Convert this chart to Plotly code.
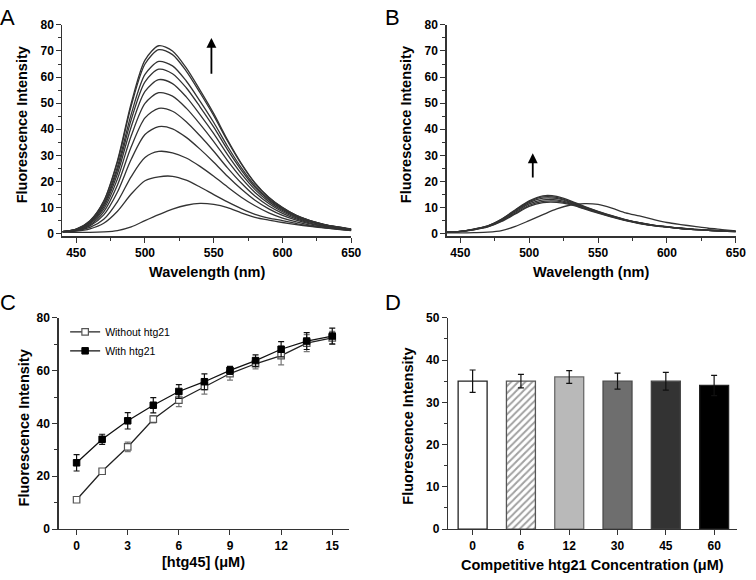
import plotly.graph_objects as go

W, H = 756, 580
FONT = "Liberation Sans, Arial, Helvetica, sans-serif"

# ---------------- data ----------------
wavelength = [440, 450, 460, 470, 480, 490, 500, 510, 520, 530, 540,
              550, 560, 570, 580, 590, 600, 610, 620, 630, 640, 650]

# Panel A: spectra with increasing htg45
spec_a1 = [0.6, 0.5, 0.5, 0.7, 1.2, 2.6, 5.0, 7.3, 9.4, 10.9, 11.6, 11.2, 10.0, 8.0, 6.3, 5.2, 4.3, 3.5, 2.8, 2.2, 1.8, 1.4]
spec_a2 = [0.7, 1.0, 1.9, 4.0, 8.6, 15.2, 20.3, 21.8, 22.0, 20.5, 17.9, 15.0, 12.2, 9.6, 7.4, 6.0, 5.0, 3.9, 3.0, 2.3, 1.7, 1.2]
spec_a3 = [0.8, 1.2, 2.4, 5.5, 12.3, 21.9, 29.2, 31.5, 31.0, 29.0, 25.8, 22.0, 17.9, 14.0, 10.7, 8.0, 6.0, 4.5, 3.3, 2.5, 1.8, 1.3]
spec_a4 = [0.8, 1.3, 3.0, 7.2, 16.0, 28.5, 38.0, 41.0, 40.2, 36.9, 32.4, 27.4, 22.0, 17.1, 12.8, 9.5, 7.0, 5.2, 3.8, 2.8, 2.0, 1.4]
spec_a5 = [0.8, 1.4, 3.4, 8.4, 18.7, 33.3, 44.4, 48.0, 46.9, 42.9, 37.5, 31.6, 25.2, 19.4, 14.4, 10.6, 7.8, 5.7, 4.1, 3.0, 2.2, 1.5]
spec_a6 = [0.8, 1.5, 3.8, 9.4, 21.0, 37.5, 49.9, 54.0, 52.7, 48.1, 42.0, 35.3, 28.0, 21.4, 15.8, 11.6, 8.4, 6.1, 4.4, 3.2, 2.3, 1.6]
spec_a7 = [0.8, 1.6, 4.1, 10.3, 23.0, 41.0, 54.5, 59.0, 57.5, 52.4, 45.6, 38.3, 30.3, 23.0, 16.9, 12.3, 8.9, 6.4, 4.6, 3.3, 2.4, 1.7]
spec_a8 = [0.8, 1.6, 4.4, 11.0, 24.5, 43.7, 58.2, 63.0, 61.3, 55.9, 48.6, 40.8, 32.2, 24.4, 17.8, 12.9, 9.3, 6.6, 4.8, 3.4, 2.4, 1.7]
spec_a9 = [0.8, 1.7, 4.6, 11.5, 25.7, 45.8, 61.0, 66.0, 64.3, 58.5, 50.8, 42.6, 33.5, 25.3, 18.4, 13.3, 9.6, 6.8, 4.9, 3.5, 2.5, 1.7]
spec_a10 = [0.8, 1.8, 4.9, 12.3, 27.4, 49.0, 65.0, 70.5, 68.6, 62.3, 54.0, 45.2, 35.5, 26.7, 19.3, 13.9, 10.0, 7.0, 5.0, 3.6, 2.6, 1.8]
spec_a11 = [0.8, 1.8, 5.0, 12.5, 28.0, 50.0, 66.5, 72.0, 70.0, 63.5, 55.0, 46.0, 36.0, 27.0, 19.5, 14.0, 10.0, 7.0, 5.0, 3.6, 2.6, 1.8]
spectra_A = [spec_a1, spec_a2, spec_a3, spec_a4, spec_a5, spec_a6,
             spec_a7, spec_a8, spec_a9, spec_a10, spec_a11]

# Panel B: spectra in presence of htg21
spec_b0 = [0.3, 0.3, 0.4, 0.6, 1.2, 2.8, 5.0, 7.3, 9.5, 11.0, 11.5, 11.2, 9.8, 8.0, 6.8, 5.5, 4.3, 3.5, 2.8, 2.1, 1.6, 1.1]
spec_b1 = [0.6, 0.9, 1.8, 3.0, 5.6, 9.2, 12.6, 14.5, 14.3, 12.6, 10.5, 8.6, 6.9, 5.4, 4.2, 3.3, 2.7, 2.1, 1.7, 1.4, 1.1, 0.9]
spec_b2 = [0.6, 0.9, 1.8, 3.0, 5.5, 9.0, 12.3, 14.1, 13.9, 12.3, 10.3, 8.5, 6.8, 5.3, 4.2, 3.3, 2.6, 2.1, 1.7, 1.4, 1.1, 0.9]
spec_b3 = [0.6, 0.9, 1.7, 2.9, 5.3, 8.7, 11.9, 13.6, 13.5, 12.0, 10.1, 8.3, 6.7, 5.2, 4.1, 3.2, 2.6, 2.1, 1.7, 1.3, 1.1, 0.9]
spec_b4 = [0.6, 0.9, 1.7, 2.8, 5.1, 8.3, 11.4, 13.0, 13.0, 11.7, 9.9, 8.2, 6.6, 5.2, 4.1, 3.2, 2.6, 2.0, 1.6, 1.3, 1.0, 0.8]
spec_b5 = [0.6, 0.9, 1.6, 2.7, 4.9, 7.9, 10.9, 12.4, 12.5, 11.4, 9.7, 8.1, 6.5, 5.1, 4.0, 3.1, 2.5, 2.0, 1.6, 1.3, 1.0, 0.8]
spec_b6 = [0.5, 0.8, 1.5, 2.6, 4.7, 7.6, 10.5, 11.9, 12.0, 11.1, 9.5, 7.9, 6.4, 5.0, 3.9, 3.1, 2.5, 2.0, 1.6, 1.3, 1.0, 0.8]
spectra_B = [spec_b0, spec_b1, spec_b2, spec_b3, spec_b4, spec_b5, spec_b6]

# Panel C: titration
htg45_conc = [0, 1.5, 3, 4.5, 6, 7.5, 9, 10.5, 12, 13.5, 15]
without_htg21 = [11.1, 21.9, 31.1, 41.6, 48.8, 54.0, 58.9, 62.6, 65.7, 70.4, 72.4]
without_err = [0.6, 0.8, 1.8, 1.4, 2.4, 2.9, 2.5, 1.9, 3.5, 3.2, 2.5]
with_htg21 = [25.1, 34.0, 41.0, 46.9, 52.1, 55.8, 60.1, 63.8, 68.1, 71.2, 73.1]
with_err = [3.1, 1.9, 3.1, 2.9, 2.6, 3.0, 1.5, 2.2, 2.9, 3.2, 3.0]

# Panel D: competition
competitor_conc = ["0", "6", "12", "30", "45", "60"]
bar_values = [35, 35, 36, 35, 35, 34]
bar_err = [2.65, 1.6, 1.5, 1.9, 2.1, 2.4]
bar_colors = ["#ffffff", "#ffffff", "#b9b9b9", "#6e6e6e", "#333333", "#000000"]
bar_edges = ["#222222", "#555555", "#6a6a6a", "#4a4a4a", "#444444", "#222222"]
bar_patterns = ["", "/", "", "", "", ""]


def fx(p):
    return p / W


def fy(p):
    return 1 - p / H


fig = go.Figure()

for s in spectra_A:
    fig.add_trace(go.Scatter(x=wavelength, y=s, mode="lines", xaxis="x", yaxis="y",
                             line=dict(color="#333333", width=1.3, shape="spline", smoothing=0.8),
                             showlegend=False, hoverinfo="skip"))
for s in spectra_B:
    fig.add_trace(go.Scatter(x=wavelength, y=s, mode="lines", xaxis="x2", yaxis="y2",
                             line=dict(color="#333333", width=1.3, shape="spline", smoothing=0.8),
                             showlegend=False, hoverinfo="skip"))

fig.add_trace(go.Scatter(x=htg45_conc, y=without_htg21, mode="lines+markers", name="Without htg21",
                         xaxis="x3", yaxis="y3",
                         line=dict(color="#222222", width=1.3),
                         marker=dict(symbol="square", size=6.5, color="white",
                                     line=dict(color="#555555", width=1.2)),
                         error_y=dict(type="data", array=without_err, color="#777777",
                                      thickness=1.2, width=3)))
fig.add_trace(go.Scatter(x=htg45_conc, y=with_htg21, mode="lines+markers", name="With htg21",
                         xaxis="x3", yaxis="y3",
                         line=dict(color="#111111", width=1.3),
                         marker=dict(symbol="square", size=6.5, color="black",
                                     line=dict(color="black", width=1)),
                         error_y=dict(type="data", array=with_err, color="#111111",
                                      thickness=1.2, width=3)))

fig.add_trace(go.Bar(x=competitor_conc, y=bar_values, xaxis="x4", yaxis="y4", width=0.6,
                     marker=dict(color=bar_colors, line=dict(color=bar_edges, width=1.3),
                                 pattern=dict(shape=bar_patterns, fgcolor="#333333",
                                              size=5, solidity=0.4, fillmode="overlay")),
                     error_y=dict(type="data", array=bar_err, color="#111111",
                                  thickness=1.2, width=3),
                     showlegend=False))

tickfont = dict(family=FONT, size=12, color="black", weight="bold")
common = dict(showline=True, linecolor="#333333", linewidth=1.2, ticks="outside",
              ticklen=5, tickwidth=1, tickcolor="#333333", showgrid=False, zeroline=False,
              tickfont=tickfont, mirror=False)

dA_x = [fx(63.3), fx(356)]
dB_x = [fx(452.5), fx(745.7)]
dAB_y = [fy(235), fy(18.3)]
dC_x = [fx(59.3), fx(353.3)]
dD_x = [fx(454), fx(746.7)]
dCD_y = [fy(535), fy(318.5)]

minor_spec = dict(ticks="outside", ticklen=3, tickwidth=1, tickcolor="#333333", showgrid=False)

fig.update_layout(
    width=W, height=H, margin=dict(l=0, r=0, t=0, b=0), autosize=False,
    paper_bgcolor="white", plot_bgcolor="white",
    font=dict(family=FONT, color="black"),
    xaxis=dict(domain=dA_x, anchor="y", range=[440, 650], tick0=450, dtick=50,
               minor=dict(dtick=25, **minor_spec), **common),
    yaxis=dict(domain=dAB_y, anchor="x", range=[-1, 80], tick0=0, dtick=10,
               minor=dict(dtick=5, **minor_spec), **common),
    xaxis2=dict(domain=dB_x, anchor="y2", range=[440, 650], tick0=450, dtick=50,
                minor=dict(dtick=25, **minor_spec), **common),
    yaxis2=dict(domain=dAB_y, anchor="x2", range=[-1, 80], tick0=0, dtick=10,
                minor=dict(dtick=5, **minor_spec), **common),
    xaxis3=dict(domain=dC_x, anchor="y3", range=[-1.06, 15.96], tick0=0, dtick=3, **common),
    yaxis3=dict(domain=dCD_y, anchor="x3", range=[0, 80], tick0=0, dtick=20,
                minor=dict(dtick=10, **minor_spec), **common),
    xaxis4=dict(domain=dD_x, anchor="y4", range=[-0.51, 5.47], type="category", **common),
    yaxis4=dict(domain=dCD_y, anchor="x4", range=[0, 50], tick0=0, dtick=10,
                minor=dict(dtick=5, **minor_spec), **common),
    showlegend=True,
    legend=dict(x=fx(66), y=fy(318), xanchor="left", yanchor="top",
                bgcolor="rgba(0,0,0,0)", borderwidth=0, tracegroupgap=0,
                itemwidth=30, font=dict(family=FONT, size=10.5, color="black")),
)

annotations = []


def title(text, x, y, angle=0):
    annotations.append(dict(text="<b>%s</b>" % text, x=fx(x), y=fy(y), xref="paper", yref="paper",
                            showarrow=False, xanchor="center", yanchor="middle", textangle=angle,
                            font=dict(family=FONT, size=14.5, color="black")))


title("Wavelength (nm)", 209.7, 272)
title("Fluorescence Intensity", 21.7, 120.8, -90)
title("Wavelength (nm)", 599.3, 272)
title("Fluorescence Intensity", 411.7, 120.8, -90)
title("[htg45] (\u03bcM)", 206.5, 568.3)
title("Fluorescence Intensity", 24.3, 430.8, -90)
title("Competitive htg21 Concentration (\u03bcM)", 600.7, 571.7)
title("Fluorescence Intensity", 413.3, 429.2, -90)

# panel letters
for letter, x, y in [("A", 8, 11), ("B", 398, 11), ("C", 8, 302.5), ("D", 398, 302.5)]:
    annotations.append(dict(text=letter, x=fx(x), y=fy(y), xref="paper", yref="paper",
                            showarrow=False, xanchor="center", yanchor="middle",
                            font=dict(family=FONT, size=22, color="black")))

# arrows
annotations.append(dict(x=548.3, y=75, ax=548.3, ay=60.7, xref="x", yref="y", axref="x", ayref="y",
                        text="", showarrow=True, arrowhead=2, arrowsize=1.1, arrowwidth=1.8,
                        arrowcolor="black", standoff=0, startstandoff=0))
annotations.append(dict(x=502.6, y=30.8, ax=502.6, ay=21, xref="x2", yref="y2", axref="x2", ayref="y2",
                        text="", showarrow=True, arrowhead=2, arrowsize=1.1, arrowwidth=1.8,
                        arrowcolor="black", standoff=0, startstandoff=0))

fig.update_layout(annotations=annotations)

fig.write_html("out.html",
               config={"displayModeBar": False, "staticPlot": True},
               post_script="document.body.style.margin='0';document.body.style.padding='0';"
                           "document.body.style.overflow='hidden';")
